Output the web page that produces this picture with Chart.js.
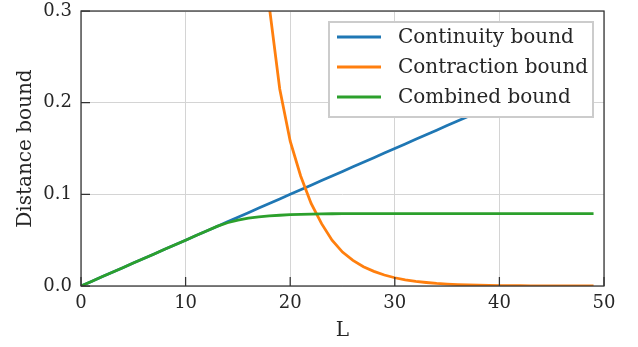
<!DOCTYPE html>
<html lang="en">
    <head>
        <meta charset="UTF-8" />
        <title>Distance bound vs L</title>
        <style>
            html, body {
                margin: 0;
                padding: 0;
                background: #ffffff;
            }
            #chart-container {
                width: 638px;
                height: 347px;
            }
        </style>
    </head>
    <body>
        <div id="chart-container">
            <canvas id="boundChart" width="638" height="347"></canvas>
        </div>

        <script src="https://cdn.jsdelivr.net/npm/chart.js"></script>
        <script>
            // L values (integer steps 0..49)
            const L = [
                0, 1, 2, 3, 4, 5, 6, 7, 8, 9,
                10, 11, 12, 13, 14, 15, 16, 17, 18, 19,
                20, 21, 22, 23, 24, 25, 26, 27, 28, 29,
                30, 31, 32, 33, 34, 35, 36, 37, 38, 39,
                40, 41, 42, 43, 44, 45, 46, 47, 48, 49,
            ];

            const continuity = [
                0, 0.005, 0.01, 0.015, 0.02, 0.025, 0.03, 0.035, 0.04, 0.045,
                0.05, 0.055, 0.06, 0.065, 0.07, 0.075, 0.08, 0.085, 0.09, 0.095,
                0.1, 0.105, 0.11, 0.115, 0.12, 0.125, 0.13, 0.135, 0.14, 0.145,
                0.15, 0.155, 0.16, 0.165, 0.17, 0.175, 0.18, 0.185, 0.19, 0.195,
                0.2, 0.205, 0.21, 0.215, 0.22, 0.225, 0.23, 0.235, 0.24, 0.245,
            ];

            // above 0.3 for small L (clipped off the plot)
            const contraction = [
                9, 8, 7, 6, 5, 4.5, 4, 3.5, 3, 2.6,
                2.2, 1.8, 1.5, 1.2, 1.0, 0.8, 0.6, 0.43, 0.305, 0.215,
                0.158, 0.12, 0.09, 0.068, 0.05, 0.037, 0.028, 0.021, 0.016, 0.012,
                0.009, 0.0068, 0.005, 0.0038, 0.0028, 0.0021, 0.0016, 0.0012, 0.0009, 0.0007,
                0.0005, 0.0004, 0.0003, 0.0002, 0.0002, 0.0001, 0.0001, 0.0001, 0.0001, 0,
            ];

            const combined = [
                0, 0.005, 0.01, 0.015, 0.02, 0.025, 0.03, 0.035, 0.04, 0.045,
                0.05, 0.055, 0.06, 0.065, 0.069, 0.0718, 0.074, 0.0755, 0.0765, 0.0772,
                0.0778, 0.0782, 0.0785, 0.0787, 0.0788, 0.0789, 0.0789, 0.0789, 0.079, 0.079,
                0.079, 0.079, 0.079, 0.079, 0.079, 0.079, 0.079, 0.079, 0.079, 0.079,
                0.079, 0.079, 0.079, 0.079, 0.079, 0.079, 0.079, 0.079, 0.079, 0.079,
            ];

            const xTicks = [0, 10, 20, 30, 40, 50];
            const yTicks = [0, 0.1, 0.2, 0.3];

            const serif = "'DejaVu Serif', serif";
            const textColor = "#262626";
            const spineColor = "#333333";

            function toPoints(values) {
                return values.map((v, i) => ({ x: L[i], y: v }));
            }

            // inward ticks, full frame and the legend inside the plot
            const framePlugin = {
                id: "frame",
                afterDatasetsDraw(chart) {
                    const { ctx, chartArea: a, scales } = chart;
                    ctx.save();
                    ctx.strokeStyle = spineColor;
                    ctx.lineWidth = 1.25;
                    ctx.beginPath();
                    xTicks.forEach((t) => {
                        const px = scales.x.getPixelForValue(t);
                        ctx.moveTo(px, a.bottom);
                        ctx.lineTo(px, a.bottom - 9);
                    });
                    yTicks.forEach((t) => {
                        const py = scales.y.getPixelForValue(t);
                        ctx.moveTo(a.left, py);
                        ctx.lineTo(a.left + 9, py);
                    });
                    ctx.stroke();
                    ctx.strokeRect(a.left, a.top, a.right - a.left, a.bottom - a.top);
                    ctx.restore();
                },
                afterDraw(chart) {
                    const { ctx, chartArea: a } = chart;
                    const w = 264;
                    const h = 95;
                    const left = a.right - 11 - w;
                    const top = a.top + 11;
                    ctx.save();
                    ctx.fillStyle = "#ffffff";
                    ctx.fillRect(left, top, w, h);
                    ctx.strokeStyle = "#cccccc";
                    ctx.lineWidth = 2;
                    ctx.strokeRect(left, top, w, h);
                    ctx.font = "20px " + serif;
                    ctx.textBaseline = "middle";
                    chart.data.datasets.forEach((ds, i) => {
                        const y = top + 15 + i * 30;
                        ctx.strokeStyle = ds.borderColor;
                        ctx.lineWidth = 3;
                        ctx.beginPath();
                        ctx.moveTo(left + 8, y);
                        ctx.lineTo(left + 52, y);
                        ctx.stroke();
                        ctx.fillStyle = textColor;
                        ctx.fillText(ds.label, left + 69, y + 1);
                    });
                    ctx.restore();
                },
            };

            const ctx = document.getElementById("boundChart").getContext("2d");
            const boundChart = new Chart(ctx, {
                type: "line",
                data: {
                    datasets: [
                        {
                            label: "Continuity bound",
                            data: toPoints(continuity),
                            borderColor: "#1f77b4",
                            order: 3,
                        },
                        {
                            label: "Contraction bound",
                            data: toPoints(contraction),
                            borderColor: "#ff7f0e",
                            order: 2,
                        },
                        {
                            label: "Combined bound",
                            data: toPoints(combined),
                            borderColor: "#2ca02c",
                            order: 1,
                        },
                    ],
                },
                options: {
                    responsive: false,
                    animation: false,
                    devicePixelRatio: 1,
                    layout: {
                        padding: { top: 11, right: 34, left: 0, bottom: 0 },
                    },
                    elements: {
                        point: { radius: 0 },
                        line: { borderWidth: 2.8, tension: 0, fill: false },
                    },
                    datasets: {
                        line: { clip: 0 },
                    },
                    plugins: {
                        legend: { display: false },
                        tooltip: { enabled: false },
                    },
                    scales: {
                        x: {
                            type: "linear",
                            min: 0,
                            max: 50,
                            afterBuildTicks(scale) {
                                scale.ticks = xTicks.map((v) => ({ value: v }));
                            },
                            afterFit(scale) {
                                scale.height = 61;
                            },
                            grid: {
                                color: "#d4d4d4",
                                lineWidth: 1,
                                drawTicks: false,
                            },
                            border: { display: false },
                            ticks: {
                                padding: 7,
                                color: textColor,
                                font: { family: serif, size: 18 },
                                maxRotation: 0,
                            },
                            title: {
                                display: true,
                                text: "L",
                                color: textColor,
                                font: { family: serif, size: 20 },
                                padding: { top: 0, bottom: 4 },
                            },
                        },
                        y: {
                            type: "linear",
                            min: 0,
                            max: 0.3,
                            afterBuildTicks(scale) {
                                scale.ticks = yTicks.map((v) => ({ value: v }));
                            },
                            afterFit(scale) {
                                scale.width = 81;
                                // let the layout padding alone set the plot top
                                scale.paddingTop = 0;
                                scale.paddingBottom = 0;
                            },
                            grid: {
                                color: "#d4d4d4",
                                lineWidth: 1,
                                drawTicks: false,
                            },
                            border: { display: false },
                            ticks: {
                                padding: 9,
                                color: textColor,
                                font: { family: serif, size: 18 },
                                callback: (v) => v.toFixed(1),
                            },
                            title: {
                                display: true,
                                text: "Distance bound",
                                color: textColor,
                                font: { family: serif, size: 20 },
                                padding: { top: 14, bottom: 0 },
                            },
                        },
                    },
                },
                plugins: [framePlugin],
            });
        </script>
    </body>
</html>
